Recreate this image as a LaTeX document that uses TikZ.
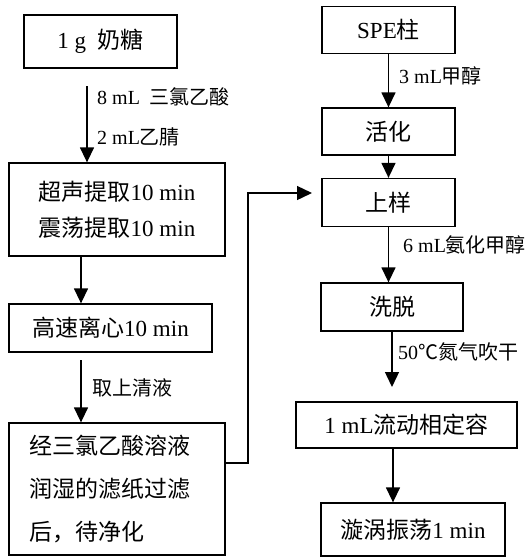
\documentclass[tikz,border=0pt]{standalone}
\usepackage{fontspec}
\setmainfont{Liberation Serif}
\newfontfamily\cjk{Noto Sans CJK SC}
\usetikzlibrary{arrows.meta}
\begin{document}
\begin{tikzpicture}[x=1pt,y=-1pt,
 box/.style={draw,line width=1.3pt,inner sep=0pt,font=\fontsize{23}{36}\selectfont,align=center},
 lab/.style={anchor=west,inner sep=0pt,font=\fontsize{20}{22}\selectfont},
 arr/.style={line width=1.4pt,-{Triangle[width=14pt,length=15pt]}}]
\useasboundingbox (0,0) rectangle (527,558);
% left column
\node[box,minimum width=153pt,minimum height=53pt] (b1) at (100.5,41.5) {1 g\ \ {\cjk 奶糖}};
\node[box,minimum width=216pt,minimum height=93pt] (b2) at (117,209.5) {{\cjk 超声提取}10 min\\{\cjk 震荡提取}10 min};
\node[box,minimum width=203pt,minimum height=48pt] (b3) at (110.5,328) {{\cjk 高速离心}10 min};
\node[box,minimum width=216pt,minimum height=132pt,text width=174pt,align=left,font=\fontsize{23}{43}\selectfont] (b4) at (117,489) {\cjk 经三氯乙酸溶液\\润湿的滤纸过滤\\后，待净化};
% right column
\node[box,minimum width=133pt,minimum height=47pt] (r1) at (388.5,30) {SPE{\cjk 柱}};
\node[box,minimum width=133pt,minimum height=47pt] (r2) at (388.5,131.5) {\cjk 活化};
\node[box,minimum width=133pt,minimum height=48pt] (r3) at (388.5,202.5) {\cjk 上样};
\node[box,minimum width=142pt,minimum height=48pt] (r4) at (392,307) {\cjk 洗脱};
\node[box,minimum width=221pt,minimum height=46pt] (r5) at (406.5,425) {1 mL{\cjk 流动相定容}};
\node[box,minimum width=184pt,minimum height=53pt] (r6) at (413,529.5) {{\cjk 漩涡振荡}1 min};
% labels
\node[lab] (l1) at (97,97) {8 mL\ \ {\cjk 三氯乙酸}};
\node[lab] (l2) at (97,137) {2 mL{\cjk 乙腈}};
\node[lab] (l3) at (92,388) {\cjk 取上清液};
\node[lab] (l4) at (399,76) {3 mL{\cjk 甲醇}};
\node[lab] (l5) at (403,245) {6 mL{\cjk 氨化甲醇}};
\node[lab] (l6) at (398,352) {50{\cjk ℃氮气吹干}};
% connectors
\coordinate (s1) at (87,86);
\coordinate (x81) at (81,0);
\coordinate (s3) at (81,360);
\coordinate (j1) at (248,463);
\coordinate (t3) at (312,193);
\coordinate (e5) at (392,387);
\coordinate (x393) at (393,0);
\draw[arr] (s1) -- (s1 |- b2.north);
\draw[arr] (b2.south -| x81) -- (b3.north -| x81);
\draw[arr] (s3) -- (s3 |- b4.north);
\draw[arr] (b4.east |- j1) -- (j1) |- (t3);
\draw[arr] (r1.south) -- (r2.north);
\draw[arr] (r2.south) -- (r3.north);
\draw[arr] (r3.south) -- (r3.south |- r4.north);
\draw[arr] (r4.south) -- (e5);
\draw[arr] (r5.south -| x393) -- (r6.north -| x393);
\end{tikzpicture}
\end{document}
